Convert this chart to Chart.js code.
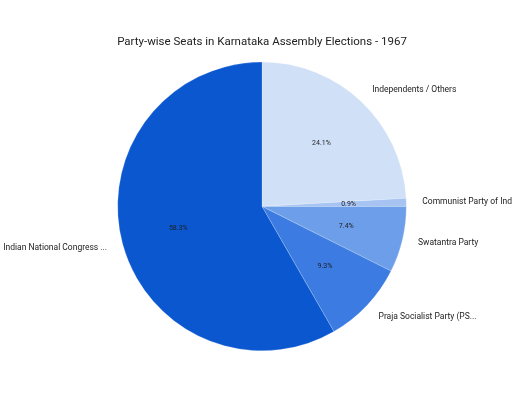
<!DOCTYPE html>
<html>
<head>
<meta charset="utf-8">
<script src="https://cdn.jsdelivr.net/npm/chart.js@4.4.0/dist/chart.umd.min.js"></script>
<style>
    html, body { margin: 0; padding: 0; background: #ffffff; }
    #wrap { width: 512px; height: 410px; }
</style>
</head>
<body>
<div id="wrap"><canvas id="seatsChart" width="512" height="410"></canvas></div>
<script>
// Slices in clockwise order from 12 o'clock
const partyLabels = [
    'Independents / Others',
    'Communist Party of India',
    'Swatantra Party',
    'Praja Socialist Party (PS...',
    'Indian National Congress ...'
];
const seatShare = [24.1, 0.9, 7.4, 9.3, 58.3];
const sliceColors = ['#d0e0f7', '#a6c3f2', '#6d9eea', '#3b7be2', '#0b57d0'];

// Draws percent labels inside and party names outside each slice
const sliceLabels = {
    id: 'sliceLabels',
    afterDatasetsDraw(chart) {
        const ctx = chart.ctx;
        const meta = chart.getDatasetMeta(0);
        ctx.save();
        meta.data.forEach((arc, i) => {
            const mid = (arc.startAngle + arc.endAngle) / 2;
            const r = arc.outerRadius;
            const cos = Math.cos(mid);
            const sin = Math.sin(mid);

            // percent inside
            ctx.font = '7px Roboto, "Noto Sans", sans-serif';
            ctx.fillStyle = '#1f1f1f';
            ctx.textAlign = 'center';
            ctx.textBaseline = 'middle';
            ctx.fillText(seatShare[i].toFixed(1) + '%', arc.x + cos * r * 0.6, arc.y + sin * r * 0.6);

            // name outside
            const d = r + 16;
            ctx.font = '8.5px Roboto, "Noto Sans", sans-serif';
            ctx.fillStyle = '#222222';
            ctx.textAlign = cos >= 0 ? 'left' : 'right';
            ctx.fillText(partyLabels[i], arc.x + cos * d, arc.y + sin * d);
        });
        ctx.restore();
    }
};

new Chart(document.getElementById('seatsChart').getContext('2d'), {
    type: 'pie',
    data: {
        labels: partyLabels,
        datasets: [{
            data: seatShare,
            backgroundColor: sliceColors,
            borderColor: 'rgba(255, 255, 255, 0.4)',
            borderWidth: 0.5
        }]
    },
    options: {
        responsive: false,
        animation: false,
        devicePixelRatio: 1,
        layout: {
            padding: { left: 100, right: 88, top: 0, bottom: 59 }
        },
        plugins: {
            legend: { display: false },
            tooltip: { enabled: false },
            title: {
                display: true,
                text: 'Party-wise Seats in Karnataka Assembly Elections - 1967',
                color: '#222222',
                font: { family: 'Roboto, "Noto Sans", sans-serif', size: 11.5, weight: 'normal' },
                padding: { top: 35, bottom: 13 }
            }
        }
    },
    plugins: [sliceLabels]
});
</script>
</body>
</html>
